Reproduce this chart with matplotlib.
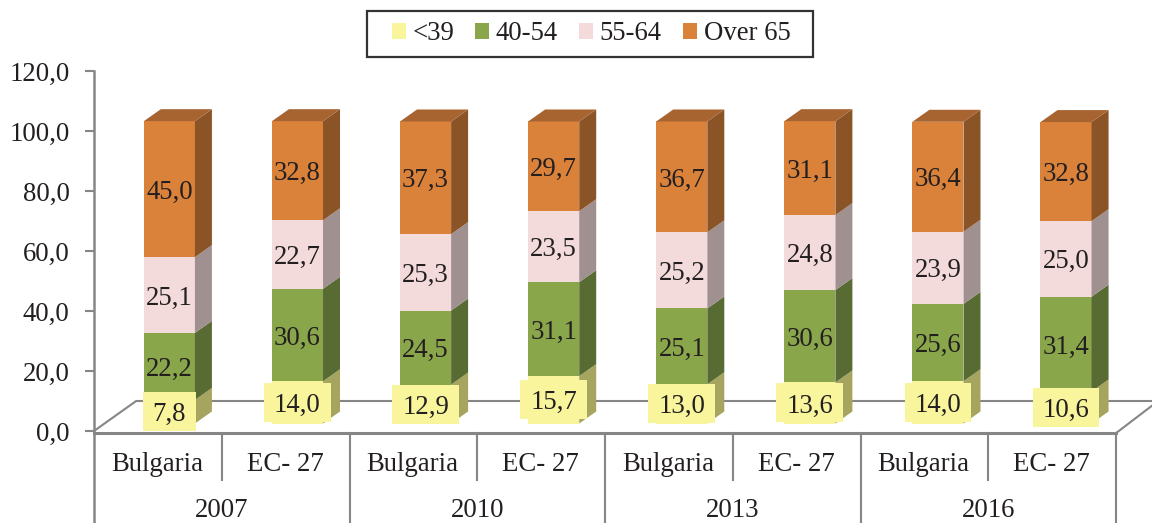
import matplotlib
matplotlib.use("Agg")
import matplotlib.pyplot as plt
from matplotlib.patches import Patch, Rectangle

plt.rcParams['font.family'] = ['Liberation Serif', 'DejaVu Serif']

# Data
countries = ['Bulgaria', 'EC- 27'] * 4
years = ['2007', '2010', '2013', '2016']
under_39 = [7.8, 14.0, 12.9, 15.7, 13.0, 13.6, 14.0, 10.6]
age_40_54 = [22.2, 30.6, 24.5, 31.1, 25.1, 30.6, 25.6, 31.4]
age_55_64 = [25.1, 22.7, 25.3, 23.5, 25.2, 24.8, 23.9, 25.0]
over_65 = [45.0, 32.8, 37.3, 29.7, 36.7, 31.1, 36.4, 32.8]
series_names = ['<39', '40-54', '55-64', 'Over 65']
y_ticks = [0, 20, 40, 60, 80, 100, 120]

series = [under_39, age_40_54, age_55_64, over_65]
front_colors = ['#F8F59C', '#8AA64B', '#F3DBDB', '#DB823A']
side_colors = ['#A5A560', '#576B33', '#A09090', '#8B5427']
top_color = '#A86430'
gray = '#868686'
text_color = '#231F20'
font_size = 19.3

W, H = 1152, 523
fig = plt.figure(figsize=(W / 100, H / 100), dpi=100)
ax = fig.add_axes([94 / W, (H - 431) / H, 1022 / W, 360 / H])
ax.set_xlim(0, 8)
ax.set_ylim(0, 120)

# 3D look: front plane of the bars sits a bit above the axis zero
base = 2.5
stretch = 1.0067
bar_left = 0.39
bar_w = 0.4
bar_step = 1.0027
depth_x = 0.133
depth_y = 4


def front(v):
    return base + v * stretch


# Floor
floor_y = 10
floor_x = 0.33
ax.plot([0, floor_x, 8 + floor_x], [0, floor_y, floor_y], color=gray, lw=1.5, clip_on=False, zorder=1)
ax.plot([8, 8 + floor_x], [-0.7, floor_y], color=gray, lw=1.5, clip_on=False, zorder=1)

# Bars
label_items = []
for i in range(8):
    x0 = i * bar_step + bar_left
    x1 = x0 + bar_w
    cum = 0
    for s, vals in enumerate(series):
        v = vals[i]
        y0 = front(cum)
        y1 = front(cum + v)
        ax.fill([x0, x1, x1, x0], [y0, y0, y1, y1], color=front_colors[s], lw=0, zorder=2)
        ax.fill([x1, x1 + depth_x, x1 + depth_x, x1],
                [y0, y0 + depth_y, y1 + depth_y, y1], color=side_colors[s], lw=0, zorder=2)
        if s == 3:
            ax.fill([x0, x1, x1 + depth_x, x0 + depth_x],
                    [y1, y1, y1 + depth_y, y1 + depth_y], color=top_color, lw=0, zorder=2)
        label_items.append((x0 + bar_w / 2, (y0 + y1) / 2, f'{v:.1f}'.replace('.', ','), s))
        cum += v

# Value labels, the first series gets a yellow box
fig.canvas.draw()
renderer = fig.canvas.get_renderer()
for x, y, txt, s in label_items:
    t = ax.text(x, y, txt, ha='center', va='center_baseline', fontsize=font_size,
                color=text_color, zorder=5)
    if s == 0:
        w = t.get_window_extent(renderer).width
        box_w = (w + 20) / (1022 / 8)
        ax.add_patch(Rectangle((x - box_w / 2, y - 6.5), box_w, 13, color=front_colors[0],
                               lw=0, zorder=4, clip_on=False))

# Y axis
ax.set_yticks(y_ticks)
ax.set_yticklabels([f'{v:.1f}'.replace('.', ',') for v in y_ticks], fontsize=font_size, color=text_color)
ax.tick_params(axis='y', length=6.5, width=1.5, color=gray, pad=11)
ax.set_xticks([])
for name in ['top', 'right', 'bottom', 'left']:
    ax.spines[name].set_visible(False)

# Axis lines and multi level category labels
line_bottom = -31
short_bottom = -16.3
ax.plot([0, 0], [120, line_bottom], color=gray, lw=1.8, clip_on=False, zorder=3)
ax.plot([0, 8], [-0.8, -0.8], color=gray, lw=2.2, clip_on=False, zorder=3)
for i in range(1, 9):
    bottom = line_bottom if i % 2 == 0 else short_bottom
    ax.plot([i, i], [-0.8, bottom], color=gray, lw=1.5, clip_on=False, zorder=3)
for i, name in enumerate(countries):
    ax.text(i + 0.495, -11.1, name, ha='center', va='center', fontsize=font_size, color=text_color)
for i, name in enumerate(years):
    ax.text(2 * i + 1, -26.4, name, ha='center', va='center', fontsize=font_size, color=text_color)

# Legend
fig.add_artist(Rectangle((367 / W, (H - 57) / H), 446 / W, 46 / H, transform=fig.transFigure,
                         facecolor='white', edgecolor='#333333', lw=1.6))
handles = [Patch(color=c, lw=0) for c in front_colors]
fig.legend(handles, series_names, ncol=4, frameon=False, fontsize=font_size,
           loc='center', bbox_to_anchor=(591 / W, (H - 34) / H), labelcolor=text_color,
           handlelength=0.52, handleheight=0.52, handletextpad=0.25, columnspacing=0.79,
           borderpad=0, borderaxespad=0)

fig.savefig('out.png', dpi=100)
